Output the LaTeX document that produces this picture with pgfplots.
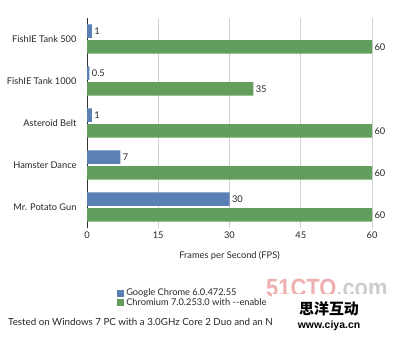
\documentclass[border=0pt]{standalone}
\usepackage{pgfplots}
\pgfplotsset{compat=1.18}
\usepackage{fontspec}
\setmainfont{Lato}
\newfontfamily\cjk{Noto Sans CJK SC}
\newfontfamily\wm{Liberation Sans}
\definecolor{cblue}{RGB}{90,128,180}
\definecolor{cgreen}{RGB}{100,158,92}
\definecolor{wmred}{RGB}{238,175,175}
\definecolor{wmgray}{RGB}{205,205,205}
\begin{document}
\begin{tikzpicture}[x=1bp,y=1bp]
\path[use as bounding box] (0,0) rectangle (400,-337);
\node[anchor=west, inner sep=0, font=\wm\bfseries\fontsize{25}{25}\selectfont, xscale=0.88] at (266,-288) {\textcolor{wmred}{51CTO}\textcolor{wmgray}{.com}};
\begin{axis}[
  at={(87bp,-228bp)}, anchor=south west,
  width=285bp, height=210bp, scale only axis,
  xbar, y dir=reverse,
  xmin=0, xmax=60, ymin=-0.5, ymax=4.5,
  bar width=13.5bp,
  axis line style={draw=none},
  xtick={15,30,45,60},
  extra x ticks={0},
  extra x tick style={grid style={draw=black!80, line width=0.7pt}},
  xmajorgrids,
  grid style={draw=black!18, line width=0.6pt},
  major tick length=0,
  ytick={0,1,2,3,4},
  yticklabels={FishIE Tank 500, FishIE Tank 1000, Asteroid Belt, Hamster Dance, Mr. Potato Gun},
  yticklabel style={font=\fontsize{9.3}{11}\selectfont, text=black!85, xshift=-7bp},
  xticklabel style={font=\fontsize{9.3}{11}\selectfont, text=black!85},
  /pgf/number format/assume math mode=true,
  xlabel={Frames per Second (FPS)},
  xlabel style={font=\fontsize{9.3}{11}\selectfont, text=black!85, yshift=-6bp},
  nodes near coords,
  every node near coord/.append style={font=\fontsize{9.3}{11}\selectfont, text=black!85, xshift=-1bp},
  legend style={at={(0.095,-0.27)}, anchor=north west, draw=none, fill=none, font=\fontsize{9.3}{11}\selectfont, text=black!85, row sep=-2.5bp},
  legend cell align=left,
  legend image code/.code={\fill[#1] (0bp,-3.5bp) rectangle (7bp,3.5bp);},
  clip=false,
]
\addplot[fill=cblue, draw=none, bar shift=7.8bp] coordinates {(1,0) (0.5,1) (1,2) (7,3) (30,4)};
\addplot[fill=cgreen, draw=none, bar shift=-7.8bp] coordinates {(60,0) (35,1) (60,2) (60,3) (60,4)};
\legend{Google Chrome 6.0.472.55, Chromium 7.0.253.0 with {-}{-}enable}
\end{axis}
\node[anchor=west, font=\fontsize{9.8}{11}\selectfont, text=black!85, inner sep=0] at (8,-322) {Tested on Windows 7 PC with a 3.0GHz Core 2 Duo and an N};
\fill[white] (272,-294) rectangle (400,-337);
\node[font=\cjk\bfseries\fontsize{15}{15}\selectfont, inner sep=0] at (329,-309) {思洋互动};
\node[font=\wm\bfseries\fontsize{10.5}{10.5}\selectfont, inner sep=0] at (329,-326) {www.ciya.cn};
\end{tikzpicture}
\end{document}
